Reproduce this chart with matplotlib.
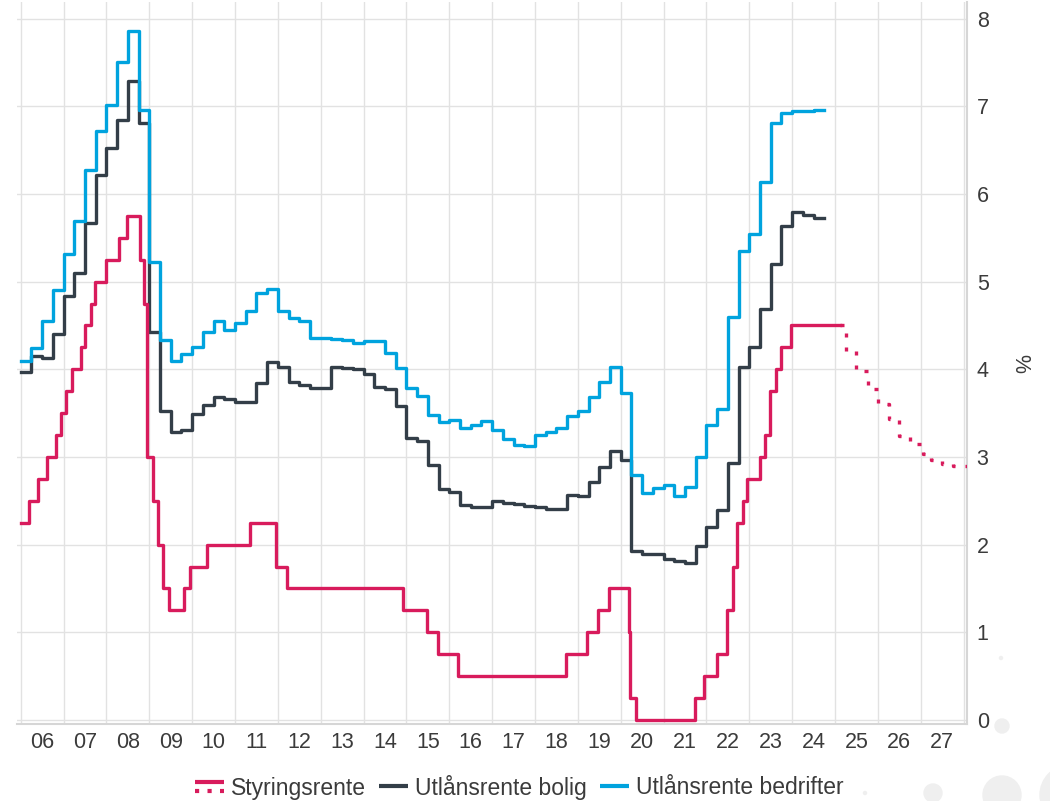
import numpy as np
import matplotlib
matplotlib.use("Agg")
import matplotlib.pyplot as plt
from matplotlib.lines import Line2D
from matplotlib.patches import Circle
from matplotlib.legend_handler import HandlerBase

plt.rcParams['font.family'] = ['Liberation Sans', 'DejaVu Sans']

RED = '#d81b5c'
DARK = '#333e48'
BLUE = '#00a3de'
TXT = '#3b3b3b'
GRID = '#e2e2e2'

# utlånsrenter, kvartalsvis fra 1. kv. 2006
start_aar = 2006.0
bolig = [
    3.97, 4.15, 4.13, 4.40,
    4.84, 5.10, 5.67, 6.22,
    6.52, 6.84, 7.29, 6.81,
    4.42, 3.53, 3.29, 3.31,
    3.49, 3.59, 3.68, 3.66,
    3.63, 3.63, 3.84, 4.08,
    4.03, 3.86, 3.82, 3.79,
    3.79, 4.03, 4.02, 4.00,
    3.95, 3.80, 3.78, 3.58,
    3.22, 3.18, 2.91, 2.64,
    2.60, 2.45, 2.43, 2.43,
    2.50, 2.48, 2.46, 2.44,
    2.43, 2.41, 2.41, 2.57,
    2.55, 2.72, 2.89, 3.07,
    2.97, 1.93, 1.89, 1.89,
    1.84, 1.81, 1.79, 1.98,
    2.20, 2.40, 2.93, 4.03,
    4.26, 4.69, 5.20, 5.63,
    5.79, 5.76, 5.73,
]
bedrift = [
    4.10, 4.24, 4.55, 4.90,
    5.32, 5.69, 6.27, 6.72,
    7.01, 7.51, 7.86, 6.96,
    5.22, 4.33, 4.09, 4.18,
    4.26, 4.43, 4.55, 4.45,
    4.53, 4.67, 4.87, 4.92,
    4.67, 4.59, 4.55, 4.36,
    4.36, 4.35, 4.33, 4.30,
    4.32, 4.32, 4.19, 4.01,
    3.79, 3.70, 3.48, 3.40,
    3.42, 3.33, 3.36, 3.41,
    3.31, 3.21, 3.14, 3.12,
    3.25, 3.29, 3.33, 3.47,
    3.52, 3.68, 3.85, 4.03,
    3.73, 2.79, 2.59, 2.65,
    2.68, 2.55, 2.66, 3.00,
    3.36, 3.55, 4.60, 5.35,
    5.54, 6.14, 6.81, 6.92,
    6.95, 6.95, 6.96,
]

# styringsrenten: dato for endring (desimalår) og ny rente
rente_dato = [2006.0, 2006.2, 2006.41, 2006.62, 2006.82, 2006.94, 2007.06, 2007.19,
              2007.4, 2007.5, 2007.63, 2007.73, 2007.98, 2008.29, 2008.49, 2008.78,
              2008.88, 2008.94, 2009.08, 2009.21, 2009.33, 2009.46, 2009.82, 2009.95,
              2010.34, 2011.35, 2011.96, 2012.21, 2014.93, 2015.47, 2015.73, 2016.21,
              2018.72, 2019.22, 2019.48, 2019.73, 2020.2, 2020.22, 2020.36, 2021.74,
              2021.95, 2022.24, 2022.47, 2022.63, 2022.72, 2022.85, 2022.95, 2023.25,
              2023.37, 2023.48, 2023.62, 2023.73, 2023.97, 2025.12]
rente = [2.25, 2.5, 2.75, 3.0, 3.25, 3.5, 3.75, 4.0,
         4.25, 4.5, 4.75, 5.0, 5.25, 5.5, 5.75, 5.25,
         4.75, 3.0, 2.5, 2.0, 1.5, 1.25, 1.5, 1.75,
         2.0, 2.25, 1.75, 1.5, 1.25, 1.0, 0.75, 0.5,
         0.75, 1.0, 1.25, 1.5, 1.0, 0.25, 0.0, 0.25,
         0.5, 0.75, 1.25, 1.75, 2.25, 2.5, 2.75, 3.0,
         3.25, 3.75, 4.0, 4.25, 4.5, 4.5]

# prognose styringsrente
prog_dato = [2025.12, 2025.26, 2025.5, 2025.77, 2026.0, 2026.25, 2026.5, 2026.76,
             2027.05, 2027.25, 2027.5, 2027.75, 2028.1]
prog = [4.5, 4.21, 3.98, 3.77, 3.6, 3.43, 3.24, 3.15,
        3.03, 2.96, 2.92, 2.9, 2.9]

aar = np.arange(2006, 2029)
aar_navn = ['%02d' % (a % 100) for a in aar[:-1]]


class ToDelt(HandlerBase):
    # heltrukken strek over, prikket under
    def create_artists(self, legend, orig_handle, xdescent, ydescent,
                       width, height, fontsize, trans):
        midt = height / 2 - ydescent
        x0, x1 = -xdescent, width - xdescent
        a = Line2D([x0, x1], [midt + 3.2] * 2, color=RED, lw=3.0,
                   solid_capstyle='butt', transform=trans)
        b = Line2D([x0, x1], [midt - 3.0] * 2, color=RED, lw=3.0,
                   dashes=(1.0, 2.0), dash_capstyle='butt', transform=trans)
        return [a, b]


fig = plt.figure(figsize=(10.5, 8.01), dpi=100)
ax = fig.add_axes([17 / 1050, 77 / 801, 950 / 1050, 722 / 801])

n = len(bolig)
kv = start_aar + 0.25 * np.arange(n + 1)
ax.step(kv, bolig + bolig[-1:], where='post', color=DARK, lw=2.4, zorder=3)
ax.step(kv, bedrift + bedrift[-1:], where='post', color=BLUE, lw=2.4, zorder=4)
ax.step(rente_dato, rente, where='post', color=RED, lw=2.4, zorder=3)
ax.step(prog_dato, prog, where='post', color=RED, lw=2.4,
        dashes=(1.2, 3.0), dash_capstyle='butt', zorder=3)

ax.set_xlim(2005.914, 2028.08)
ax.set_ylim(-0.046, 8.19)

ax.set_xticks(aar[:-1] + 0.5, aar_navn)
ax.set_xticks(aar, minor=True)
ax.set_yticks(range(9))
ax.yaxis.tick_right()
ax.tick_params(axis='both', which='both', length=0, labelsize=15.5, labelcolor=TXT)
ax.tick_params(axis='x', pad=6)
ax.tick_params(axis='y', pad=7)
ax.grid(axis='x', which='minor', color=GRID, lw=1.0)
ax.grid(axis='y', which='major', color=GRID, lw=1.0)
ax.set_axisbelow(True)

for s in ['left', 'top']:
    ax.spines[s].set_visible(False)
for s in ['right', 'bottom']:
    ax.spines[s].set_color('#d6d6d6')
    ax.spines[s].set_linewidth(1.5)

fig.text(1020 / 1050, 1 - 363 / 801, '%', rotation=270, ha='center', va='center',
         fontsize=15.5, color=TXT)

h_rente = Line2D([], [], color=RED)
h_bolig = Line2D([], [], color=DARK, lw=3.0, solid_capstyle='butt')
h_bedr = Line2D([], [], color=BLUE, lw=3.0, solid_capstyle='butt')
fig.legend([h_rente, h_bolig, h_bedr],
           ['Styringsrente', 'Utlånsrente bolig', 'Utlånsrente bedrifter'],
           handler_map={h_rente: ToDelt()},
           loc='center', bbox_to_anchor=(519.5 / 1050, 1 - 787 / 801), ncol=3,
           frameon=False, fontsize=16.5, labelcolor=TXT, handlelength=1.27,
           handletextpad=0.3, columnspacing=0.57, borderpad=0)

# pyntesirkler nede til høyre
for x, y, r in [(1002, 726, 7), (1001, 658, 1.5), (933, 793, 9), (865, 793, 1.5),
                (1002, 795, 19), (1070, 795, 30)]:
    fig.add_artist(Circle((x / 100, (801 - y) / 100), r / 100,
                          transform=fig.dpi_scale_trans, color='#efefef', zorder=-1))

fig.savefig('out.png', dpi=100)
